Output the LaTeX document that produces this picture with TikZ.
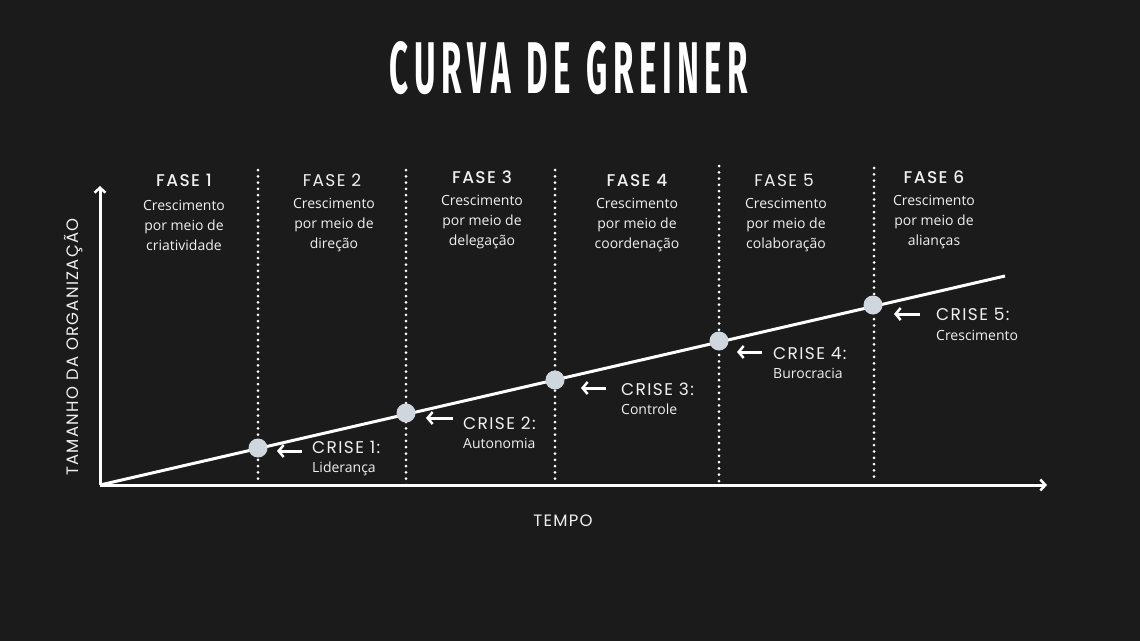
\documentclass[tikz,border=0pt]{standalone}
\usepackage{fontspec}
\setmainfont{Open Sans}
\newfontfamily\labelfont[LetterSpace=8]{Poppins}
\newfontfamily\labelmedium[LetterSpace=8]{Poppins Medium}
\newfontfamily\titlefont{Fira Sans}
\usepackage{xcolor}
\usetikzlibrary{arrows.meta}
\definecolor{bgdark}{RGB}{28,27,27}
\definecolor{dotgray}{RGB}{207,214,222}
\definecolor{txtwhite}{RGB}{240,240,240}
\tikzset{
    axisline/.style={draw=white, line width=3pt, -{Straight Barb[length=5pt,width=11pt,line width=2.5pt]}},
    growline/.style={draw=white, line width=3pt},
    sepline/.style={draw=white, line width=3pt, line cap=round, dash pattern=on 0pt off 6.3pt},
    crisisdot/.style={circle, fill=dotgray, minimum size=19pt, inner sep=0pt},
    pointer/.style={draw=white, line width=3pt, -{Straight Barb[length=5pt,width=12pt,line width=2.5pt]}},
    phasehead/.style={text=txtwhite, inner sep=0pt, font=\labelfont\fontsize{17}{18}\selectfont},
    boldhead/.style={phasehead, font=\labelmedium\fontsize{17}{18}\selectfont},
    phasetext/.style={text=txtwhite, inner sep=0pt, align=center, font=\fontsize{14}{20}\selectfont},
    crisishead/.style={text=txtwhite, inner sep=0pt, anchor=base west, font=\labelfont\fontsize{17}{18}\selectfont},
    crisistext/.style={text=txtwhite, inner sep=0pt, anchor=base west, font=\fontsize{14}{16}\selectfont},
    axislabel/.style={text=txtwhite, inner sep=0pt, font=\labelfont\fontsize{16.5}{18}\selectfont}
}

\begin{document}
\begin{tikzpicture}[x=1pt,y=-1pt]
    \fill[bgdark] (0,0) rectangle (1140,641);
    \useasboundingbox (0,0) rectangle (1140,641);

    \node[inner sep=0pt, text=white] (title) at (569,68)
        {\resizebox{358pt}{52pt}{\titlefont\bfseries C\,U\,R\,V\,A\ \ D\,E\ \ G\,R\,E\,I\,N\,E\,R}};

    % axes
    \coordinate (o) at (100,485);
    \coordinate (ytop) at (100,186);
    \coordinate (xend) at (1047,485);
    \coordinate (lend) at (1005,276);
    \draw[axisline] (o) -- (ytop);
    \draw[axisline] (o) -- (xend);
    \node[axislabel, rotate=90] (ylab) at (74,347) {TAMANHO DA ORGANIZAÇÃO};
    \node[axislabel] (xlab) at (563,521) {TEMPO};

    % phase separators
    \coordinate (s1t) at (258,170); \coordinate (s1b) at (258,482);
    \coordinate (s2t) at (406,170); \coordinate (s2b) at (406,488);
    \coordinate (s3t) at (555,170); \coordinate (s3b) at (555,484);
    \coordinate (s4t) at (719,166); \coordinate (s4b) at (719,482);
    \coordinate (s5t) at (874,168); \coordinate (s5b) at (874,482);
    \draw[sepline] (s1t) -- (s1b);
    \draw[sepline] (s2t) -- (s2b);
    \draw[sepline] (s3t) -- (s3b);
    \draw[sepline] (s4t) -- (s4b);
    \draw[sepline] (s5t) -- (s5b);

    % growth line
    \draw[growline] (o) -- (lend);

    % phases
    \node[boldhead] (f1) at (184,180) {FASE 1};
    \node[phasetext] (d1) at (184,225) {Crescimento\\por meio de\\criatividade};
    \node[phasehead] (f2) at (332,180) {FASE 2};
    \node[phasetext] (d2) at (334,225) {Crescimento\\por meio de\\direção};
    \node[boldhead] (f3) at (482,177) {FASE 3};
    \node[phasetext] (d3) at (482,222) {Crescimento\\por meio de\\delegação};
    \node[boldhead] (f4) at (637,180) {FASE 4};
    \node[phasetext] (d4) at (637,225) {Crescimento\\por meio de\\coordenação};
    \node[phasehead] (f5) at (784,180) {FASE 5};
    \node[phasetext] (d5) at (786,225) {Crescimento\\por meio de\\colaboração};
    \node[boldhead] (f6) at (934,177) {FASE 6};
    \node[phasetext] (d6) at (934,222) {Crescimento\\por meio de\\alianças};

    % crises
    \node[crisisdot] (k1) at (258,448) {};
    \node[crisisdot] (k2) at (406,413) {};
    \node[crisisdot] (k3) at (555,380) {};
    \node[crisisdot] (k4) at (719,341) {};
    \node[crisisdot] (k5) at (873,305) {};

    \coordinate (a1s) at (302,451); \coordinate (a1e) at (277,451);
    \coordinate (a2s) at (453,418); \coordinate (a2e) at (426,418);
    \coordinate (a3s) at (606,388); \coordinate (a3e) at (581,388);
    \coordinate (a4s) at (762,352); \coordinate (a4e) at (737,352);
    \coordinate (a5s) at (920,314); \coordinate (a5e) at (894,314);
    \draw[pointer] (a1s) -- (a1e);
    \draw[pointer] (a2s) -- (a2e);
    \draw[pointer] (a3s) -- (a3e);
    \draw[pointer] (a4s) -- (a4e);
    \draw[pointer] (a5s) -- (a5e);

    \node[crisishead] (c1) at (312,453) {CRISE 1:};
    \node[crisistext] (t1) at (312,472) {Liderança};
    \node[crisishead] (c2) at (463,429) {CRISE 2:};
    \node[crisistext] (t2) at (463,448) {Autonomia};
    \node[crisishead] (c3) at (621,395) {CRISE 3:};
    \node[crisistext] (t3) at (621,414) {Controle};
    \node[crisishead] (c4) at (773,359) {CRISE 4:};
    \node[crisistext] (t4) at (773,378) {Burocracia};
    \node[crisishead] (c5) at (936,320) {CRISE 5:};
    \node[crisistext] (t5) at (936,340) {Crescimento};
\end{tikzpicture}
\end{document}
